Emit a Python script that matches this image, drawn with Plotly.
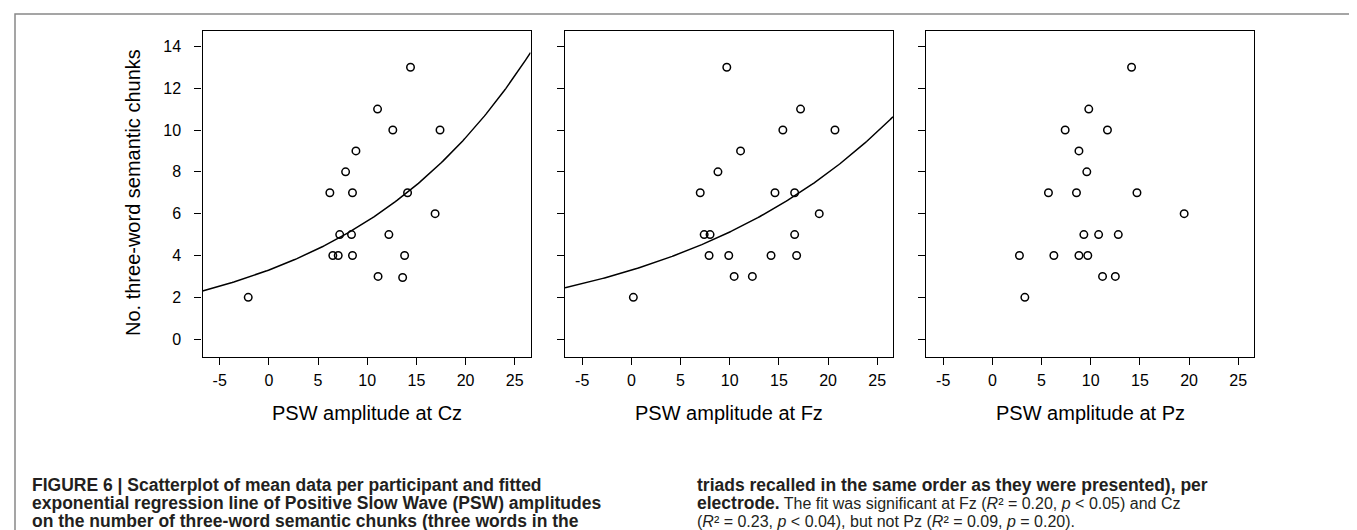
import numpy as np
import plotly.graph_objects as go

# ---------------- data ----------------
cz_x = [-2.1, 6.2, 7.8, 8.85, 8.5, 7.2, 8.4, 6.5, 7.05, 8.5, 11.05, 12.6, 14.4, 17.4, 14.1, 16.9, 12.2, 13.8, 11.1, 13.6]
cz_y = [2, 7, 8, 9, 7, 5, 5, 4, 4, 4, 11, 10, 13, 10, 7, 6, 5, 4, 3, 2.95]

fz_x = [0.2, 9.7, 17.2, 15.4, 20.7, 11.1, 8.8, 7.0, 14.6, 16.6, 19.1, 7.4, 8.0, 16.6, 7.9, 9.9, 14.2, 16.8, 10.45, 12.3]
fz_y = [2, 13, 11, 10, 10, 9, 8, 7, 7, 7, 6, 5, 5, 5, 4, 4, 4, 4, 3, 3]

pz_x = [14.15, 9.8, 7.4, 11.7, 8.8, 9.6, 5.7, 8.55, 14.7, 19.5, 9.3, 10.8, 12.8, 2.75, 6.25, 8.8, 9.7, 11.2, 12.5, 3.3]
pz_y = [13, 11, 10, 10, 9, 8, 7, 7, 7, 6, 5, 5, 5, 4, 4, 4, 4, 3, 3, 2]

# exponential regression y = a * exp(b * x) (coefficients)
cz_fit = (3.306, 0.05346)
fz_fit = (3.30, 0.0440)

x_titles = ["PSW amplitude at Cz", "PSW amplitude at Fz", "PSW amplitude at Pz"]
y_title = "No. three-word semantic chunks"
x_ticks = [-5, 0, 5, 10, 15, 20, 25]
x_tick_text = ["-5", "0", "5", "10", "15", "20", "25"]
y_ticks = [0, 2, 4, 6, 8, 10, 12, 14]

NS = "<span style='font-size:16px'>"
caption_left = [
    "<b>FIGURE 6 | Scatterplot of mean data per participant and fitted</b>",
    "<b>exponential regression line of Positive Slow Wave (PSW) amplitudes</b>",
    "<b>on the number of three-word semantic chunks (three words in the</b>",
]
caption_right = [
    "<b>triads recalled in the same order as they were presented), per</b>",
    "<b>electrode.</b>" + NS + " The fit was significant at Fz (<i>R</i>² = 0.20, <i>p</i> &lt; 0.05) and Cz</span>",
    NS + "(<i>R</i>² = 0.23, <i>p</i> &lt; 0.04), but not Pz (<i>R</i>² = 0.09, <i>p</i> = 0.20).</span>",
]

# ---------------- layout geometry ----------------
W, H = 1357, 530
FONT = "Liberation Sans, Arial, Helvetica, sans-serif"
panels_px = [(194.5, 522.5), (557.0, 885.0), (918.0, 1246.0)]
top_px, bot_px = 22.7, 348.5
XR = [-6.75, 26.6]
YR = [-0.83, 14.75]

fig = go.Figure()

series = [(cz_x, cz_y, cz_fit), (fz_x, fz_y, fz_fit), (pz_x, pz_y, None)]
for i, (xs, ys, fit) in enumerate(series):
    ax = "" if i == 0 else str(i + 1)
    if fit is not None:
        xx = np.linspace(XR[0], XR[1], 200)
        a, b = fit
        fig.add_trace(go.Scatter(x=xx, y=a * np.exp(b * xx), mode="lines",
                                 line=dict(color="black", width=1.5),
                                 xaxis="x" + ax, yaxis="y" + ax, hoverinfo="skip",
                                 showlegend=False))
    fig.add_trace(go.Scatter(x=xs, y=ys, mode="markers",
                             marker=dict(symbol="circle-open", size=7.5, color="black",
                                         line=dict(width=1.5, color="black")),
                             xaxis="x" + ax, yaxis="y" + ax, showlegend=False))

layout = dict(
    width=W, height=H,
    margin=dict(l=0, r=0, t=0, b=0),
    paper_bgcolor="white", plot_bgcolor="white",
    font=dict(family=FONT, color="black", size=16),
    showlegend=False,
)
ydom = [(H - bot_px) / H, (H - top_px) / H]
for i, (l, r) in enumerate(panels_px):
    ax = "" if i == 0 else str(i + 1)
    layout["xaxis" + ax] = dict(
        domain=[l / W, r / W], range=XR, tickmode="array",
        tickvals=x_ticks, ticktext=x_tick_text,
        ticks="outside", ticklen=7, tickwidth=1.3, tickcolor="black",
        showline=True, mirror=True, linecolor="black", linewidth=1.4,
        showgrid=False, zeroline=False, fixedrange=True,
        tickfont=dict(size=16, family=FONT, color="black"),
        anchor="y" + ax, ticklabelstandoff=2,
    )
    layout["yaxis" + ax] = dict(
        domain=ydom, range=YR, tickmode="array", tickvals=y_ticks,
        ticks="outside", ticklen=7, tickwidth=1.3, tickcolor="black",
        showline=True, mirror=True, linecolor="black", linewidth=1.4,
        showgrid=False, zeroline=False, fixedrange=True,
        showticklabels=(i == 0),
        tickfont=dict(size=16, family=FONT, color="black"),
        anchor="x" + ax, ticklabelstandoff=10,
    )
fig.update_layout(**layout)

ann = []
for i, (l, r) in enumerate(panels_px):
    ann.append(dict(text=x_titles[i], x=(l + r) / 2 / W, y=(H - 405) / H,
                    xref="paper", yref="paper", xanchor="center", yanchor="middle",
                    showarrow=False, font=dict(size=20, family=FONT, color="black")))
ann.append(dict(text=y_title, x=125 / W, y=(H - 185) / H, textangle=-90,
                xref="paper", yref="paper", xanchor="center", yanchor="middle",
                showarrow=False, font=dict(size=20, family=FONT, color="black")))
line_y = [477, 495, 513]
for k in range(3):
    ann.append(dict(text=caption_left[k], x=22 / W, y=(H - line_y[k]) / H,
                    xref="paper", yref="paper", xanchor="left", yanchor="middle",
                    showarrow=False, font=dict(size=17.5, family=FONT, color="#231f20")))
    ann.append(dict(text=caption_right[k], x=687 / W, y=(H - line_y[k]) / H,
                    xref="paper", yref="paper", xanchor="left", yanchor="middle",
                    showarrow=False, font=dict(size=17.5, family=FONT, color="#231f20")))
fig.update_layout(annotations=ann)

fig.add_shape(type="rect", xref="paper", yref="paper",
              x0=7 / W, x1=1345 / W, y0=-0.1, y1=(H - 6) / H,
              line=dict(color="#888888", width=1.5), fillcolor="rgba(0,0,0,0)", layer="above")

fig.write_html("out.html")
